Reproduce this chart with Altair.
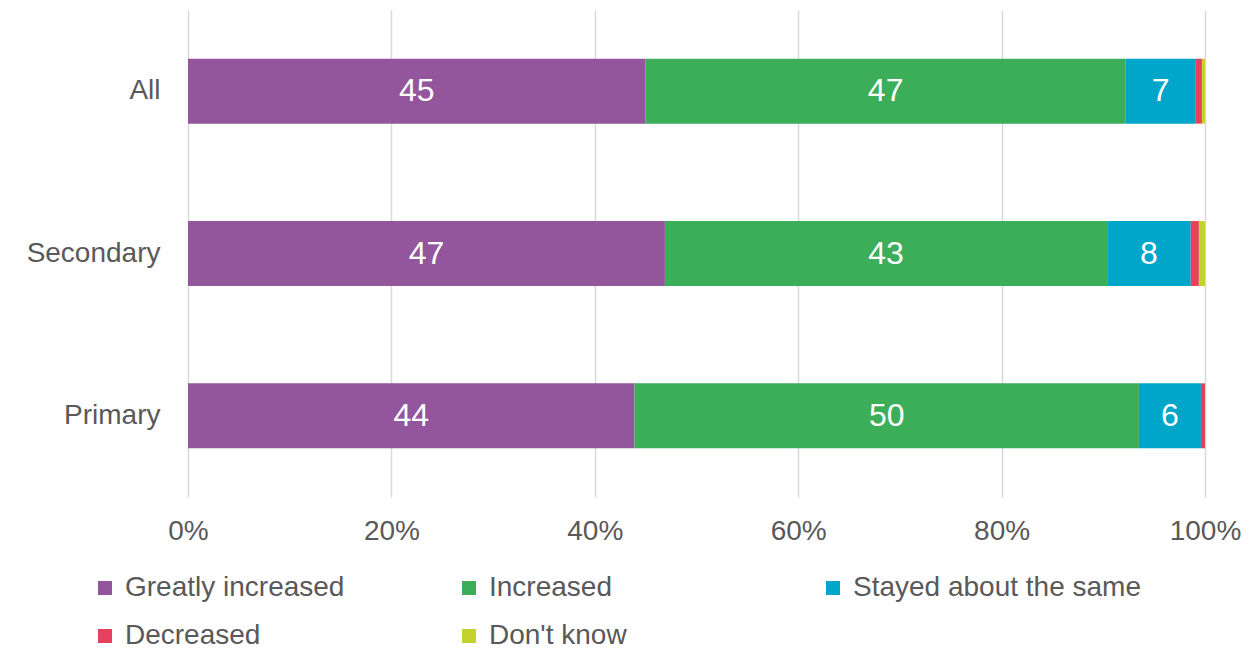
import altair as alt
import pandas as pd

categories = ["All", "Secondary", "Primary"]
series = ["Greatly increased", "Increased", "Stayed about the same", "Decreased", "Don't know"]
colors = ["#93559b", "#3cae5a", "#00a6c9", "#e84160", "#c4d32c"]

greatly_increased = [45.0, 46.8, 43.9]
increased = [47.2, 43.4, 49.6]
stayed_same = [6.9, 8.2, 6.1]
decreased = [0.6, 0.8, 0.4]
dont_know = [0.3, 0.6, 0.0]

x_ticks = [0, 0.2, 0.4, 0.6, 0.8, 1.0]

# legend order (column-major fill gives row-major look of reference)
legend_order = ["Greatly increased", "Decreased", "Increased", "Don't know", "Stayed about the same"]
legend_colors = [colors[series.index(s)] for s in legend_order]

values = [greatly_increased, increased, stayed_same, decreased, dont_know]
rows = []
for si, (s, vals) in enumerate(zip(series, values)):
    for ci, c in enumerate(categories):
        rows.append({"cat": c, "series": s, "order": si, "value": vals[ci]})
df = pd.DataFrame(rows)

FONT = "Liberation Sans"
GRAY = "#595959"

base = alt.Chart(df).transform_stack(
    stack="value",
    as_=["x0", "x1"],
    groupby=["cat"],
    sort=[alt.SortField("order", order="ascending")],
    offset="normalize",
).transform_calculate(mid="(datum.x0 + datum.x1) / 2")

y_enc = alt.Y(
    "cat:N",
    sort=categories,
    scale=alt.Scale(paddingInner=0.6, paddingOuter=0.3),
    axis=alt.Axis(
        title=None, ticks=False, domain=False, labelFontSize=28,
        labelColor=GRAY, labelFont=FONT, labelPadding=28,
    ),
)

bars = base.mark_bar().encode(
    y=y_enc,
    x=alt.X(
        "x0:Q",
        scale=alt.Scale(domain=[0, 1], nice=False),
        axis=alt.Axis(
            title=None, format=".0%", values=x_ticks, ticks=False, domain=False,
            grid=True, gridColor="#d9d9d9", gridWidth=1.5, labelFontSize=28,
            labelColor=GRAY, labelFont=FONT, labelPadding=20, labelFlush=False,
        ),
    ),
    x2="x1:Q",
    color=alt.Color(
        "series:N",
        scale=alt.Scale(domain=legend_order, range=legend_colors),
        legend=alt.Legend(
            title=None, orient="none", legendX=-97, legendY=564, columns=3,
            gridAlign="all", columnPadding=42, rowPadding=20,
            symbolType="square", symbolSize=196, symbolStrokeWidth=0,
            labelFontSize=28, labelColor=GRAY, labelFont=FONT, labelOffset=6,
            labelLimit=500,
        ),
    ),
    order=alt.Order("order:Q"),
)

labels = base.transform_filter("datum.value >= 3").mark_text(
    color="white", fontSize=32, font=FONT
).encode(
    y=alt.Y("cat:N", sort=categories),
    x=alt.X("mid:Q"),
    text=alt.Text("value:Q", format=".0f"),
)

chart = alt.layer(bars, labels).properties(
    width=1017,
    height=487,
    autosize=alt.AutoSizeParams(type="none"),
    padding={"left": 180, "top": 2, "right": 40, "bottom": 153},
).configure_view(stroke=None)

chart.save("out.html", embed_options={"renderer": "svg", "actions": False})
